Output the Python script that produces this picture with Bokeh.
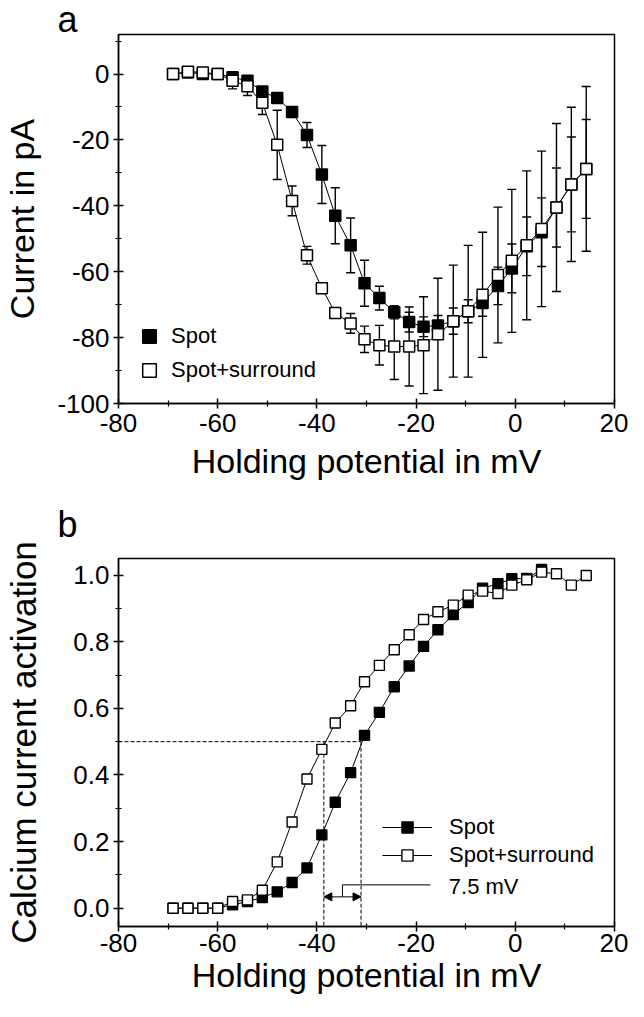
from bokeh.plotting import figure
from bokeh.layouts import column
from bokeh.models import (ColumnDataSource, Whisker, TeeHead, FixedTicker,
                          PrintfTickFormatter, Legend, LegendItem, Label,
                          Arrow, NormalHead, Range1d)
from bokeh.embed import file_html
from bokeh.resources import INLINE

# ---------------- data ----------------
potential_mv = [-69, -66, -63, -60, -57, -54, -51, -48, -45, -42, -39, -36.3,
                -33.2, -30.4, -27.4, -24.4, -21.4, -18.5, -15.6, -12.5, -9.5,
                -6.6, -3.5, -0.7, 2.3, 5.3, 8.3, 11.3, 14.3]

# panel a: current (pA)
a_spot_pa = [0, 0.5, 0, 0, -1, -2, -5.3, -7.3, -11.5, -18.5, -30.5, -43, -52,
             -63.5, -68, -72.3, -75.3, -76.7, -76.3, -75, -72, -69.5, -64.3,
             -59, -52.3, -48, -40.5, -33.5, -28.8]
a_spot_err = [0.5, 0.5, 0.5, 0.5, 1, 1, 1, 1.5, 1.5, 3.8, 8.8, 8.5, 8.3, 7,
              3.6, 2, 3, 3, 3, 4, 3.5, 4, 5.7, 7.4, 8.9, 10.4, 12, 14.4, 15]
a_surr_pa = [0, 0.7, 0.5, 0, -2, -3.7, -8.7, -21.5, -38.5, -55, -65, -72.5,
             -75.7, -80.5, -82.3, -82.7, -82.7, -82.3, -79, -75, -72, -67, -61,
             -56.7, -52, -47, -40.5, -33.5, -28.8]
a_surr_err = [0, 0, 0, 0.5, 2.5, 2.8, 3.6, 10.5, 4.5, 2.7, 1, 1, 3, 4, 6, 10,
              12, 14.7, 17, 17, 20, 19, 20.6, 21.7, 22.6, 23.6, 25.5, 23.4, 25]

# panel b: normalised activation
b_spot_act = [0, 0, 0, 0, 0.01, 0.02, 0.032, 0.049, 0.077, 0.121, 0.22, 0.318,
              0.407, 0.519, 0.588, 0.665, 0.727, 0.786, 0.836, 0.882, 0.918,
              0.961, 0.974, 0.989, 0.99, 1.017]
b_surr_act = [0, 0, 0, 0, 0.02, 0.025, 0.054, 0.139, 0.259, 0.388, 0.477,
              0.556, 0.608, 0.680, 0.729, 0.776, 0.821, 0.867, 0.890, 0.910,
              0.940, 0.952, 0.945, 0.970, 0.986, 1.009, 1.004, 0.970, 0.999]

half_level = 0.5
half_surr_mv = -38.6
half_spot_mv = -31.1
shift_text = "7.5 mV"

x_ticks = [-80, -60, -40, -20, 0, 20]
x_minor = [-70, -50, -30, -10, 10]
a_yticks = [-100, -80, -60, -40, -20, 0]
a_yminor = [-90, -70, -50, -30, -10, 10]
b_yticks = [0.0, 0.2, 0.4, 0.6, 0.8, 1.0]
b_yminor = [0.1, 0.3, 0.5, 0.7, 0.9]

FONT = "Liberation Sans"


def make_fig(height, top, bottom, yr, tick_standoff, label_standoff):
    p = figure(width=628, height=height, x_range=Range1d(-80, 20),
               y_range=Range1d(*yr), output_backend="svg",
               toolbar_location=None, min_border_left=114,
               min_border_right=14, min_border_top=top,
               min_border_bottom=bottom)
    p.grid.visible = False
    p.outline_line_color = "black"
    p.outline_line_width = 1.5
    p.outline_line_alpha = 1
    p.background_fill_color = "white"
    p.border_fill_color = "white"
    for ax in (p.xaxis[0], p.yaxis[0]):
        ax.axis_line_width = 1.5
        ax.axis_line_color = "black"
        ax.major_tick_line_width = 1.5
        ax.minor_tick_line_width = 1.2
        ax.major_tick_line_color = "black"
        ax.minor_tick_line_color = "black"
        ax.major_tick_in = 5
        ax.major_tick_out = 5
        ax.minor_tick_in = 3
        ax.minor_tick_out = 3
        ax.major_label_text_font = FONT
        ax.major_label_text_font_size = "26px"
        ax.major_label_text_color = "black"
        ax.axis_label_text_font = FONT
        ax.axis_label_text_font_style = "normal"
        ax.axis_label_text_color = "black"
    p.xaxis[0].ticker = FixedTicker(ticks=x_ticks, minor_ticks=x_minor)
    p.xaxis[0].formatter = PrintfTickFormatter(format="%d")
    p.xaxis[0].major_label_standoff = tick_standoff
    p.xaxis[0].axis_label = "Holding potential in mV"
    p.xaxis[0].axis_label_text_font_size = "34px"
    p.xaxis[0].axis_label_standoff = label_standoff
    p.title.text_font = FONT
    p.title.text_font_size = "36px"
    p.title.text_font_style = "normal"
    p.title.text_color = "black"
    p.title.align = "left"
    p.title.offset = -61
    return p


def errors(src_y, err):
    lo = [y - e for y, e in zip(src_y, err)]
    hi = [y + e for y, e in zip(src_y, err)]
    return lo, hi


# ---------------- panel a ----------------
pa = make_fig(490, 34, 87, (-100, 12), 5, 7)
pa.title.text = "a"
pa.title.vertical_align = "bottom"
pa.title.standoff = -10
pa.yaxis[0].ticker = FixedTicker(ticks=a_yticks, minor_ticks=a_yminor)
pa.yaxis[0].formatter = PrintfTickFormatter(format="%d")
pa.yaxis[0].axis_label = "Current in pA"
pa.yaxis[0].axis_label_text_font_size = "34px"
pa.yaxis[0].axis_label_standoff = 13
pa.yaxis[0].major_label_standoff = 4

for yv, ev in ((a_spot_pa, a_spot_err), (a_surr_pa, a_surr_err)):
    lo, hi = errors(yv, ev)
    s = ColumnDataSource(dict(x=potential_mv, lo=lo, hi=hi))
    w = Whisker(source=s, base="x", lower="lo", upper="hi",
                line_color="black", line_width=1.4, level="underlay",
                upper_head=TeeHead(size=9, line_width=1.4, line_color="black"),
                lower_head=TeeHead(size=9, line_width=1.4, line_color="black"))
    pa.add_layout(w)

pa.line(potential_mv, a_spot_pa, line_color="black", line_width=1)
pa.line(potential_mv, a_surr_pa, line_color="black", line_width=1)
a_spot_r = pa.scatter(potential_mv, a_spot_pa, marker="square", size=11,
                      fill_color="black", line_color="black", line_width=1.5)
a_surr_r = pa.scatter(potential_mv, a_surr_pa, marker="square", size=11,
                      fill_color="white", line_color="black", line_width=1.5)

leg_a = Legend(items=[LegendItem(label="Spot", renderers=[a_spot_r]),
                      LegendItem(label="Spot+surround", renderers=[a_surr_r])],
               location=(14, 16), glyph_width=34, glyph_height=34, spacing=-4,
               padding=0, margin=0, label_standoff=5, label_text_font=FONT,
               label_text_font_size="22px", label_text_color="black",
               border_line_color=None, background_fill_alpha=0)
pa.add_layout(leg_a)

# ---------------- panel b ----------------
ymin_b = -0.055
pb = make_fig(511, 68, 75, (ymin_b, 1.05), 2, 1)
pb.title.text = "b"
pb.title.vertical_align = "top"
pb.title.standoff = 23
pb.yaxis[0].ticker = FixedTicker(ticks=b_yticks, minor_ticks=b_yminor)
pb.yaxis[0].formatter = PrintfTickFormatter(format="%.1f")
pb.yaxis[0].axis_label = "Calcium current activation"
pb.yaxis[0].axis_label_text_font_size = "35px"
pb.yaxis[0].axis_label_standoff = 27
pb.yaxis[0].major_label_standoff = 4

pb.line([-80, half_spot_mv], [half_level, half_level], line_color="black",
        line_width=1, line_dash="4 2")
pb.line([half_surr_mv, half_surr_mv], [half_level, ymin_b], line_color="black",
        line_width=1, line_dash="4 2")
pb.line([half_spot_mv, half_spot_mv], [half_level, ymin_b], line_color="black",
        line_width=1, line_dash="4 2")

arrow_y = 0.034
bracket_y = 0.07
mid_mv = (half_surr_mv + half_spot_mv) / 2
pb.add_layout(Arrow(x_start=mid_mv, y_start=arrow_y, x_end=half_surr_mv,
                    y_end=arrow_y, line_width=1, line_color="black",
                    end=NormalHead(size=8, fill_color="black", line_color="black"),
                    start=None))
pb.add_layout(Arrow(x_start=mid_mv, y_start=arrow_y, x_end=half_spot_mv,
                    y_end=arrow_y, line_width=1, line_color="black",
                    end=NormalHead(size=8, fill_color="black", line_color="black"),
                    start=None))
pb.line([mid_mv, mid_mv, -17.1], [arrow_y, bracket_y, bracket_y],
        line_color="black", line_width=1)
pb.add_layout(Label(x=-13.4, y=0.065, text=shift_text, text_font=FONT,
                    text_font_size="22px", text_color="black",
                    text_align="left", text_baseline="middle"))

n_spot = len(b_spot_act)
b_spot_line = pb.line(potential_mv[:n_spot], b_spot_act, line_color="black",
                      line_width=1)
b_surr_line = pb.line(potential_mv, b_surr_act, line_color="black",
                      line_width=1)
b_spot_r = pb.scatter(potential_mv[:n_spot], b_spot_act, marker="square",
                      size=10, fill_color="black", line_color="black",
                      line_width=1.4)
b_surr_r = pb.scatter(potential_mv, b_surr_act, marker="square", size=10,
                      fill_color="white", line_color="black", line_width=1.4)

leg_b = Legend(items=[LegendItem(label="Spot", renderers=[b_spot_line, b_spot_r]),
                      LegendItem(label="Spot+surround",
                                 renderers=[b_surr_line, b_surr_r])],
               location=(264, 57), glyph_width=50, glyph_height=28, spacing=0,
               padding=0, margin=0, label_standoff=17, label_text_font=FONT,
               label_text_font_size="22px", label_text_color="black",
               border_line_color=None, background_fill_alpha=0)
pb.add_layout(leg_b)

layout = column(pa, pb, spacing=0)
open("out.html", "w").write(file_html(layout, INLINE))
